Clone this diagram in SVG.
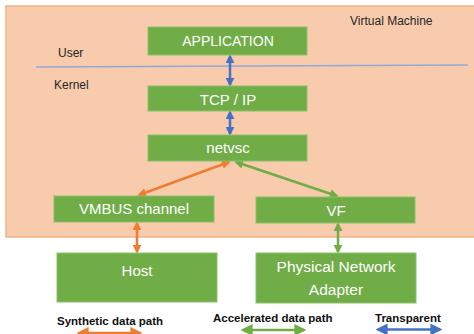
<svg xmlns="http://www.w3.org/2000/svg" width="474" height="334" viewBox="0 0 474 334">
<defs>
<style>
.box{fill:#70AD47;stroke:#8CC168;stroke-width:1}
.bt{font-family:"Liberation Sans",Arial,sans-serif;font-size:15px;fill:#FFFFFF;text-anchor:middle;dominant-baseline:central}
.lbl{font-family:"Liberation Sans",Arial,sans-serif;font-size:12px;fill:#262626;dominant-baseline:central}
.leg{font-family:"Liberation Sans",Arial,sans-serif;font-size:11.5px;font-weight:bold;fill:#111111;dominant-baseline:central}
.o{stroke:#ED7D31;stroke-width:2.5;fill:none}
.g{stroke:#70AD47;stroke-width:2.5;fill:none}
.b{stroke:#4472C4;stroke-width:2.5;fill:none}
</style>
<marker id="ao" viewBox="0 0 10 10" refX="8" refY="5" markerWidth="9" markerHeight="9" markerUnits="userSpaceOnUse" orient="auto-start-reverse"><path d="M0,0 L10,5 L0,10 z" fill="#ED7D31"/></marker>
<marker id="ag" viewBox="0 0 10 10" refX="8" refY="5" markerWidth="9" markerHeight="9" markerUnits="userSpaceOnUse" orient="auto-start-reverse"><path d="M0,0 L10,5 L0,10 z" fill="#70AD47"/></marker>
<marker id="ab" viewBox="0 0 10 10" refX="8" refY="5" markerWidth="9" markerHeight="9" markerUnits="userSpaceOnUse" orient="auto-start-reverse"><path d="M0,0 L10,5 L0,10 z" fill="#4472C4"/></marker>
<marker id="aol" viewBox="0 0 10 10" refX="8" refY="5" markerWidth="12" markerHeight="12" markerUnits="userSpaceOnUse" orient="auto-start-reverse"><path d="M0,0 L10,5 L0,10 z" fill="#ED7D31"/></marker>
<marker id="agl" viewBox="0 0 10 10" refX="8" refY="5" markerWidth="12" markerHeight="12" markerUnits="userSpaceOnUse" orient="auto-start-reverse"><path d="M0,0 L10,5 L0,10 z" fill="#70AD47"/></marker>
<marker id="abl" viewBox="0 0 10 10" refX="8" refY="5" markerWidth="12" markerHeight="12" markerUnits="userSpaceOnUse" orient="auto-start-reverse"><path d="M0,0 L10,5 L0,10 z" fill="#4472C4"/></marker>
</defs>
<rect width="474" height="334" fill="#FFFFFF"/>
<g id="vm">
<rect x="6" y="6" width="476" height="231" fill="#F8CBAD" stroke="#F4B183" stroke-width="1.5"/>
<text class="lbl" x="350" y="21">Virtual Machine</text>
<text class="lbl" x="58" y="53">User</text>
<text class="lbl" x="54" y="85">Kernel</text>
<line x1="36" y1="67" x2="468" y2="65" stroke="#8FAADC" stroke-width="1.5"/>
</g>
<g id="connectors">
<line class="b" x1="230" y1="56" x2="230" y2="85" marker-start="url(#ab)" marker-end="url(#ab)"/>
<line class="b" x1="230" y1="112" x2="230" y2="134" marker-start="url(#ab)" marker-end="url(#ab)"/>
<line class="o" x1="229" y1="162" x2="139" y2="195" marker-start="url(#ao)" marker-end="url(#ao)"/>
<line class="g" x1="236" y1="162" x2="337" y2="196" marker-start="url(#ag)" marker-end="url(#ag)"/>
<line class="o" x1="137" y1="223" x2="137" y2="252" marker-start="url(#ao)" marker-end="url(#ao)"/>
<line class="g" x1="338" y1="224" x2="338" y2="252" marker-start="url(#ag)" marker-end="url(#ag)"/>
</g>
<g id="application"><rect class="box" x="148" y="27" width="159" height="28"/><text class="bt" x="228" y="41" style="font-size:14px">APPLICATION</text></g>
<g id="tcpip"><rect class="box" x="148" y="86" width="159" height="25"/><text class="bt" x="228" y="99">TCP / IP</text></g>
<g id="netvsc"><rect class="box" x="148" y="135" width="159" height="26"/><text class="bt" x="228" y="147">netvsc</text></g>
<g id="vmbus"><rect class="box" x="54" y="196" width="160" height="26"/><text class="bt" x="134" y="208">VMBUS channel</text></g>
<g id="vf"><rect class="box" x="256" y="197" width="159" height="26"/><text class="bt" x="336" y="210">VF</text></g>
<g id="host"><rect class="box" x="57" y="253" width="160" height="49"/><text class="bt" x="137" y="270">Host</text></g>
<g id="pna"><rect class="box" x="256" y="253" width="160" height="50"/><text class="bt" x="336" y="266" style="font-size:15.5px">Physical Network</text><text class="bt" x="336" y="289" style="font-size:15.5px">Adapter</text></g>
<g id="legend">
<text class="leg" x="57" y="321">Synthetic data path</text>
<text class="leg" x="213" y="318">Accelerated data path</text>
<text class="leg" x="375" y="318">Transparent</text>
<line class="o" x1="79" y1="333" x2="140" y2="333" stroke-width="3.5" marker-start="url(#aol)" marker-end="url(#aol)"/>
<line class="g" x1="243" y1="330" x2="304" y2="330" stroke-width="3.5" marker-start="url(#agl)" marker-end="url(#agl)"/>
<line class="b" x1="378" y1="329.5" x2="440" y2="329.5" stroke-width="3.5" marker-start="url(#abl)" marker-end="url(#abl)"/>
</g>
</svg>
